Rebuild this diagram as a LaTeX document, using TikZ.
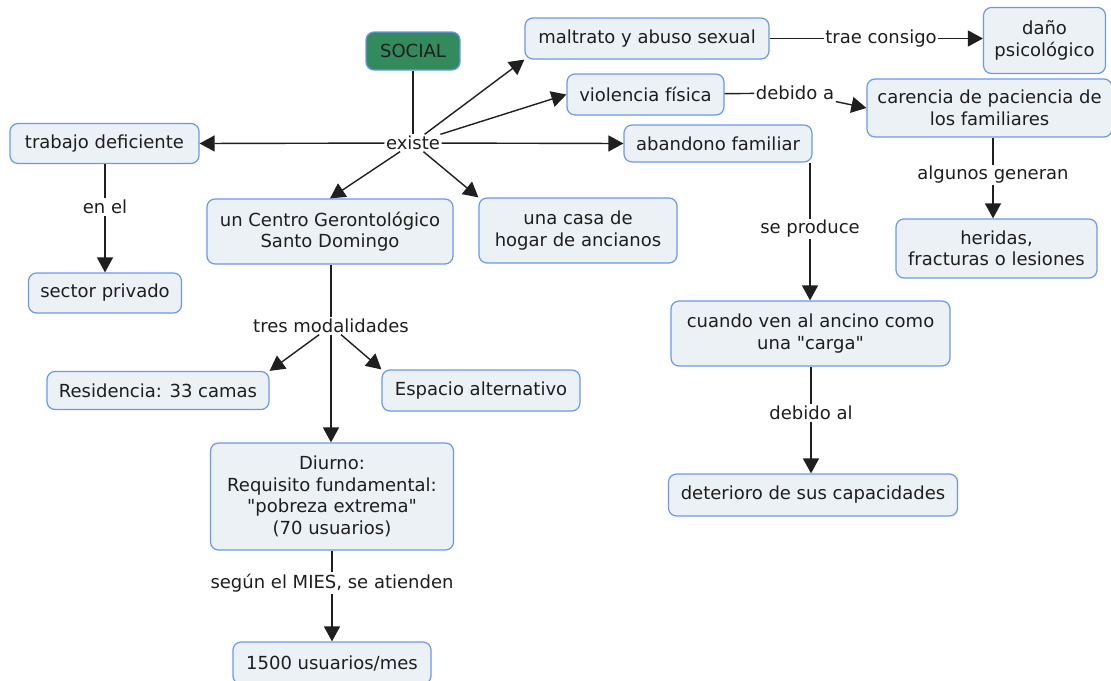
\documentclass[tikz,border=0pt]{standalone}
\usepackage{fontspec}
\setmainfont{DejaVu Sans}[Ligatures=TeXOff]
\usetikzlibrary{arrows.meta}
\definecolor{boxfill}{HTML}{EBF1F4}
\definecolor{boxline}{HTML}{6A98F0}
\definecolor{socialfill}{HTML}{338A5C}
\definecolor{txt}{HTML}{1E1E1E}
\begin{document}
\begin{tikzpicture}[x=1pt,y=-1pt,
  concept/.style={draw=boxline, line width=1.2pt, fill=boxfill, rounded corners=8pt,
    text=txt, align=center, inner sep=0pt, font=\fontsize{18}{21.5}\selectfont},
  lbl/.style={fill=white, text=txt, inner sep=1.5pt, font=\fontsize{18}{21.5}\selectfont},
  conn/.style={draw=black!88, line width=1.4pt},
  arr/.style={conn, -{Triangle[length=15pt,width=16pt]}}]
\useasboundingbox (0,0) rectangle (1111,680);
\fill[white] (0,0) rectangle (1111,680);

% concepts
\node[concept, fill=socialfill, minimum width=94pt, minimum height=38pt] (social) at (413,51) {SOCIAL};
\node[concept, minimum width=244pt, minimum height=41pt] (maltrato) at (647,38.5) {maltrato y abuso sexual};
\node[concept, minimum width=122pt, minimum height=66pt] (dano) at (1044.5,40.5) {daño\\psicológico};
\node[concept, minimum width=157pt, minimum height=41pt] (violencia) at (645.5,94.5) {violencia física};
\node[concept, minimum width=245pt, minimum height=58pt] (carencia) at (989.5,108) {carencia de paciencia de\\los familiares};
\node[concept, minimum width=189pt, minimum height=40pt] (trabajo) at (104.5,143.5) {trabajo deficiente};
\node[concept, minimum width=188pt, minimum height=37pt] (abandono) at (718,143.5) {abandono familiar};
\node[concept, minimum width=153pt, minimum height=40pt] (sector) at (105,293) {sector privado};
\node[concept, minimum width=246pt, minimum height=65pt] (centro) at (330,231.5) {un Centro Gerontológico\\Santo Domingo};
\node[concept, minimum width=198pt, minimum height=65pt] (casa) at (578,230.5) {una casa de\\hogar de ancianos};
\node[concept, minimum width=201pt, minimum height=59pt] (heridas) at (996.5,248.5) {heridas,\\fracturas o lesiones};
\node[concept, minimum width=279pt, minimum height=65pt] (cuando) at (810.5,333.5) {cuando ven al ancino como\\una "carga"};
\node[concept, minimum width=289pt, minimum height=42pt] (deterioro) at (813,495) {deterioro de sus capacidades};
\node[concept, minimum width=222pt, minimum height=38pt] (residencia) at (158,390.5) {Residencia: 33 camas};
\node[concept, minimum width=198pt, minimum height=41pt] (espacio) at (481,390.5) {Espacio alternativo};
\node[concept, minimum width=243pt, minimum height=107pt] (diurno) at (332,496.5) {Diurno:\\Requisito fundamental:\\"pobreza extrema"\\(70 usuarios)};
\node[concept, minimum width=198pt, minimum height=42pt] (usuarios) at (332,663) {1500 usuarios/mes};

% linking phrases
\node[lbl] (existe) at (413,143) {existe};
\node[lbl] (enel) at (105,207) {en el};
\node[lbl] (tres) at (331,326) {tres modalidades};
\node[lbl] (segun) at (332,583) {según el MIES, se atienden};
\node[lbl] (trae) at (881,38.5) {trae consigo};
\node[lbl] (debidoa) at (795,93) {debido a};
\node[lbl] (algunos) at (993,175) {algunos generan};
\node[lbl] (produce) at (810,229) {se produce};
\node[lbl] (debidoal) at (811,413) {debido al};

% connectors
\draw[conn] (social) -- (existe);
\draw[arr] (existe) -- (trabajo.east);
\draw[arr] (existe) -- (abandono.west);
\draw[arr] (existe) -- (maltrato.south west);
\draw[arr] (existe) -- (violencia.west);
\draw[arr] (existe) -- (centro.north);
\draw[arr] (existe) -- (casa.north west);

\draw[conn] (trabajo.south -| enel) -- (enel);
\draw[arr] (enel) -- (sector);

\draw[conn] (centro.south -| tres) -- (tres);
\draw[arr] (tres) -- (residencia.north east);
\draw[arr] (tres) -- (espacio.north west);
\draw[arr] (tres) -- (diurno.north -| tres);

\draw[conn] (diurno) -- (segun);
\draw[arr] (segun) -- (usuarios);

\draw[conn] (maltrato) -- (trae);
\draw[arr] (trae) -- (trae -| dano.west);

\draw[conn] (violencia) -- (debidoa);
\draw[arr] (debidoa) -- (carencia.west);

\draw[conn] (carencia.south -| algunos) -- (algunos);
\draw[arr] (algunos) -- (heridas.north -| algunos);

\draw[conn] (abandono.south -| produce) -- (produce);
\draw[arr] (produce) -- (cuando.north -| produce);

\draw[conn] (cuando.south -| debidoal) -- (debidoal);
\draw[arr] (debidoal) -- (deterioro.north -| debidoal);
\end{tikzpicture}
\end{document}
